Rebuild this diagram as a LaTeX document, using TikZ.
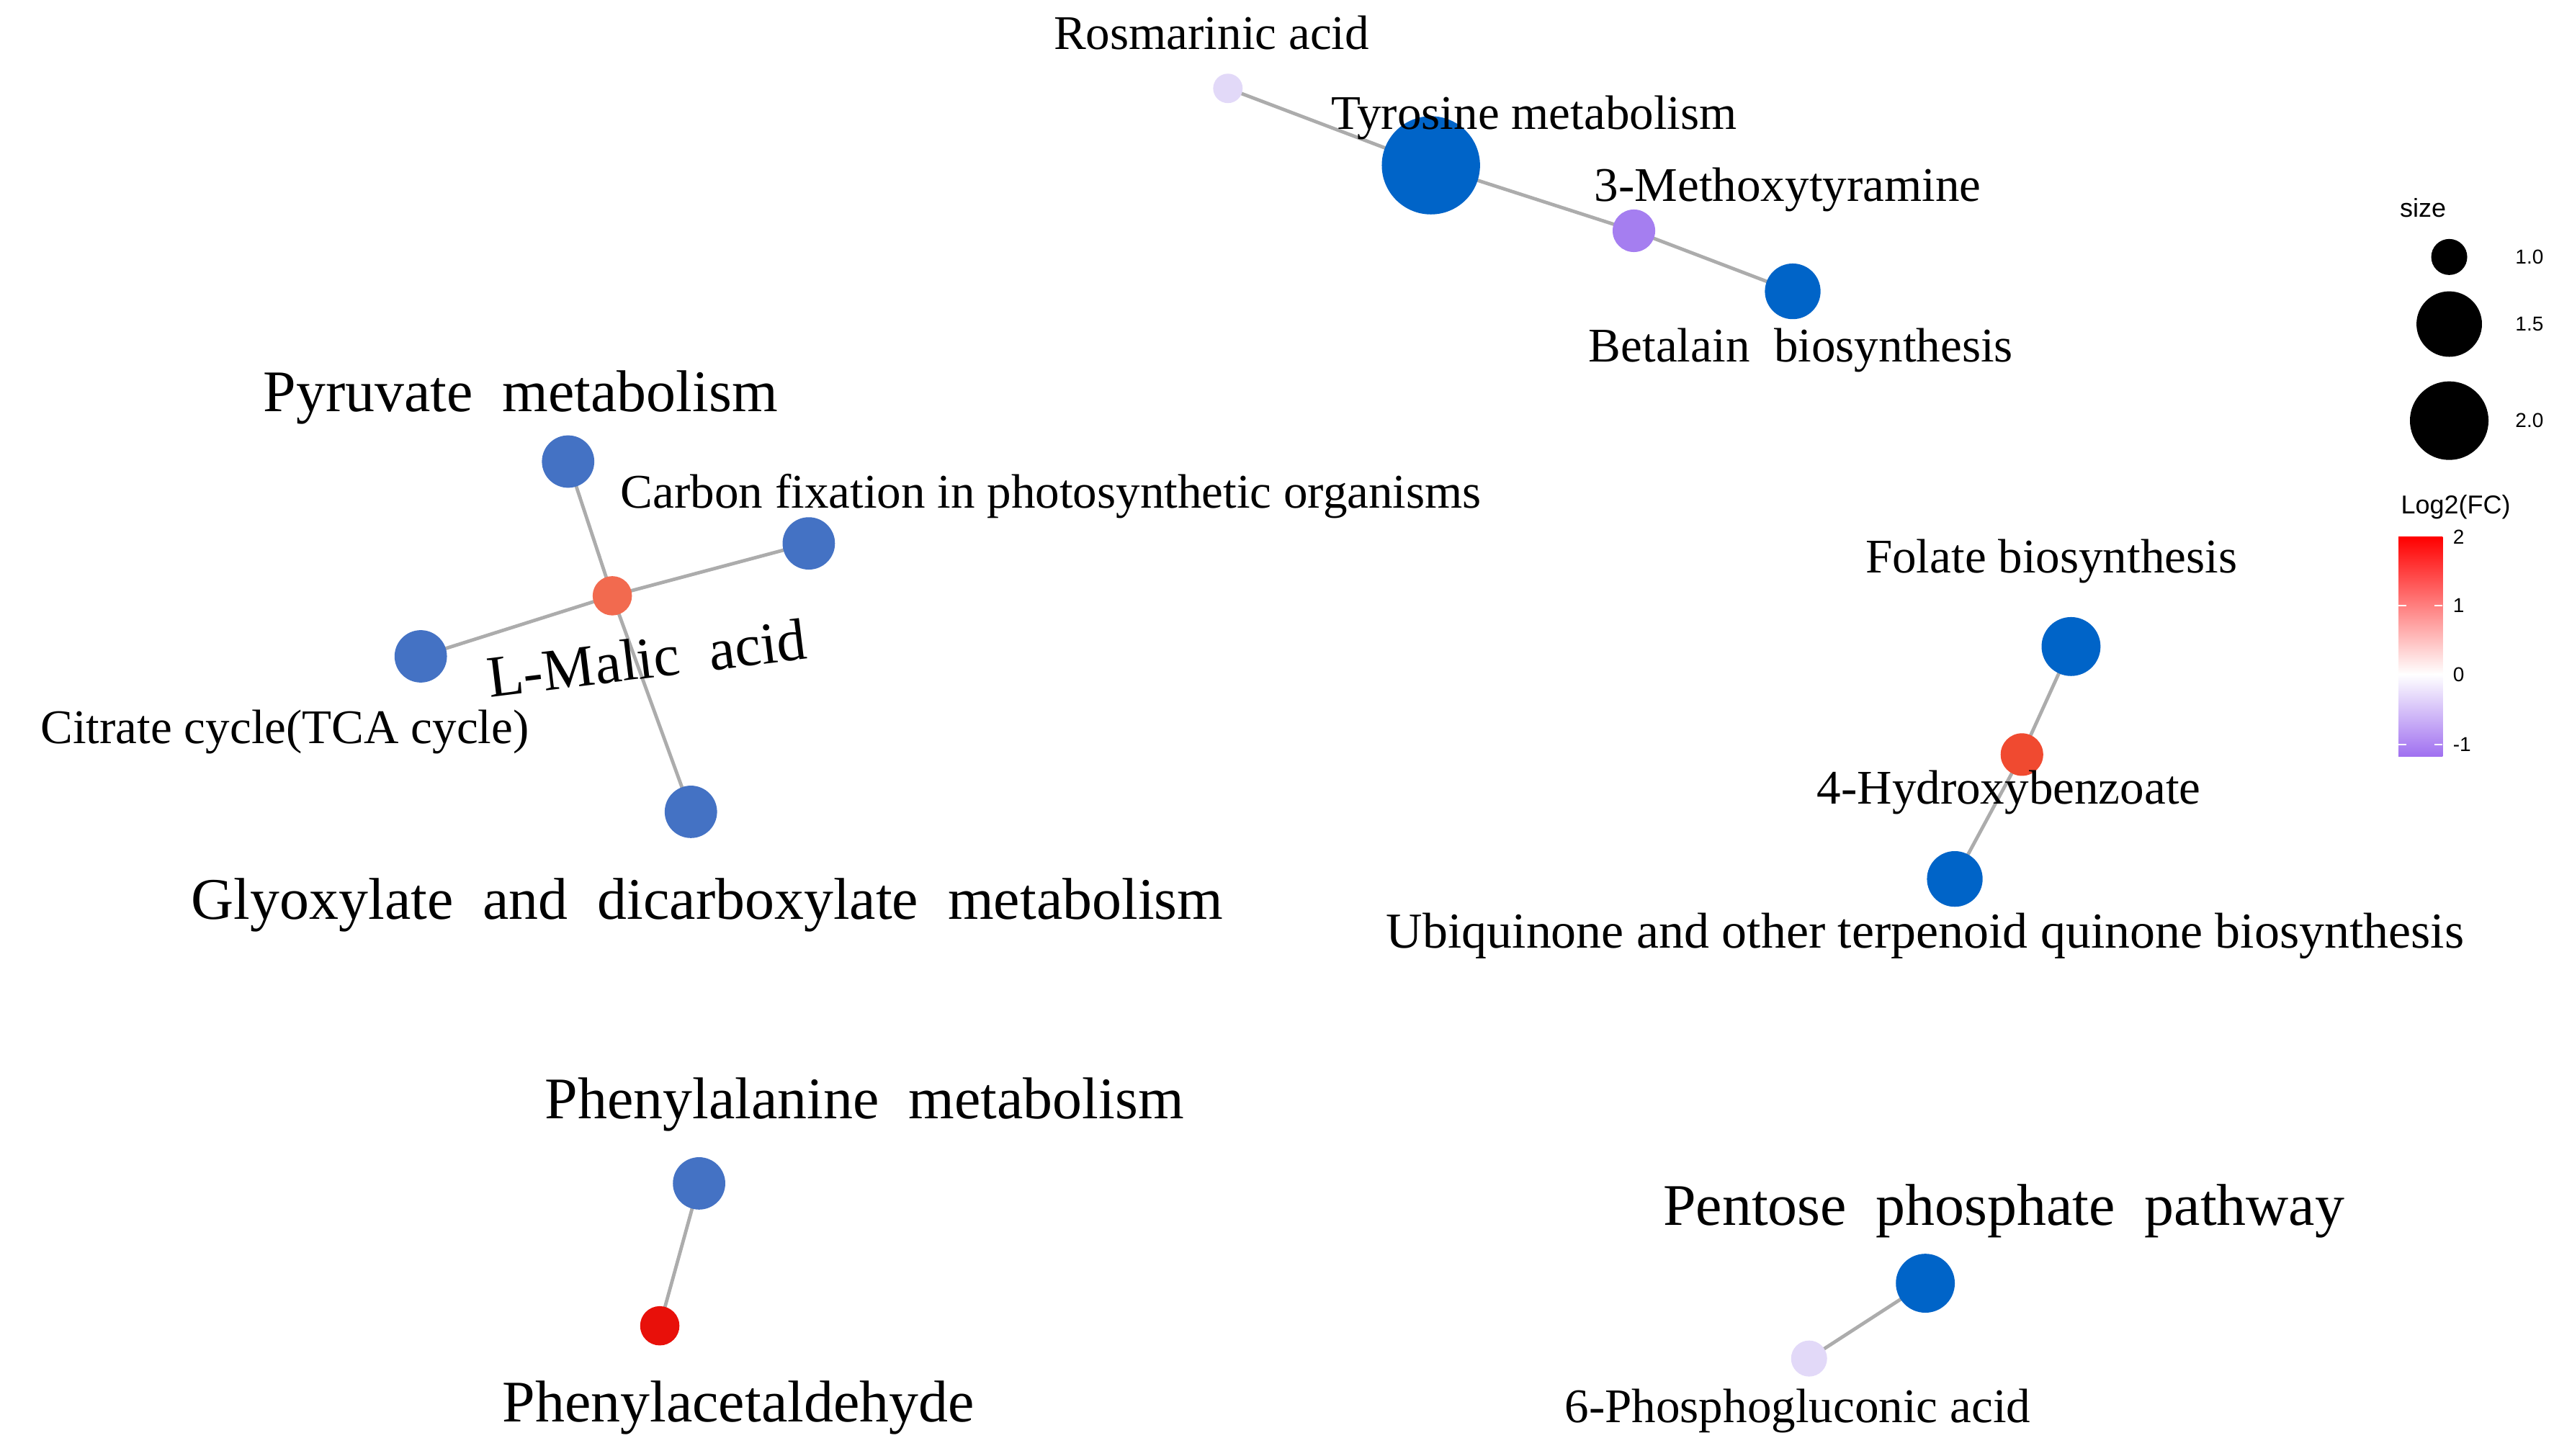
\documentclass[tikz,border=0pt]{standalone}
\usepackage{fontspec}
\setmainfont{Liberation Serif}
\newfontfamily\legfont{Liberation Sans}
\begin{document}
\begin{tikzpicture}[x=0.02cm,y=-0.02cm,
  edge/.style={draw=gray!65,line width=1.2pt},
  sm/.style={font=\fontsize{16.8}{19}\selectfont,inner sep=0pt},
  lg/.style={font=\fontsize{20.5}{23}\selectfont,inner sep=0pt},
  leg/.style={font=\legfont\fontsize{9}{10}\selectfont,inner sep=0pt},
  legn/.style={font=\legfont\fontsize{7}{8}\selectfont,inner sep=0pt}]
\definecolor{nb}{HTML}{0064C8}
\definecolor{mb}{HTML}{4472C4}
\definecolor{lav}{HTML}{E2D9F8}
\definecolor{pur}{HTML}{A57EF0}
\definecolor{malc}{HTML}{F26A4F}
\definecolor{hydc}{HTML}{F04A30}
\definecolor{palc}{HTML}{E8100A}
\definecolor{lowc}{HTML}{A070F0}
\useasboundingbox (0,0) rectangle (1560,889.5);
\coordinate (ros) at (750,54);
\coordinate (tyr) at (874,101);
\coordinate (met) at (998,141);
\coordinate (bet) at (1095,178);
\coordinate (pyr) at (347,282);
\coordinate (car) at (494,332);
\coordinate (mal) at (374,364);
\coordinate (cit) at (257,401);
\coordinate (gly) at (422,496);
\coordinate (fol) at (1265,395);
\coordinate (hyd) at (1235,461);
\coordinate (ubi) at (1194,537);
\coordinate (phe) at (427,723);
\coordinate (pal) at (403,810);
\coordinate (pen) at (1176,784);
\coordinate (pgl) at (1105,830);
\draw[edge] (ros) -- (tyr) -- (met) -- (bet)
  (pyr) -- (mal) (car) -- (mal) (cit) -- (mal) (gly) -- (mal)
  (fol) -- (hyd) -- (ubi) (phe) -- (pal) (pen) -- (pgl);
\foreach \n/\c/\r in {ros/lav/9,tyr/nb/30,met/pur/13,bet/nb/17,pyr/mb/16,car/mb/16,cit/mb/16,gly/mb/16,fol/nb/18,ubi/nb/17,phe/mb/16,pen/nb/18,pgl/lav/11,mal/malc/12,hyd/hydc/13,pal/palc/12}
  \fill[\c] (\n) circle (\r);
% labels
\node[sm] (lros) at (740,20) {Rosmarinic acid};
\node[sm] (ltyr) at (937,72) {Tyrosine metabolism};
\node[sm] (lmet) at (1092,116) {3-Methoxytyramine};
\node[sm] (lbet) at (1100,214) {Betalain\ \ biosynthesis};
\node[lg] (lpyr) at (318,243) {Pyruvate\ \ metabolism};
\node[sm] (lcar) at (642,303) {Carbon fixation in photosynthetic organisms};
\node[lg,rotate=7] (lmal) at (395,402) {L-Malic\ \ acid};
\node[sm] (lcit) at (174,447) {Citrate cycle(TCA cycle)};
\node[lg] (lgly) at (432,553) {Glyoxylate\ \ and\ \ dicarboxylate\ \ metabolism};
\node[sm] (lfol) at (1253,343) {Folate biosynthesis};
\node[sm] (lhyd) at (1227,484) {4-Hydroxybenzoate};
\node[sm,font=\fontsize{17.5}{19}\selectfont] (lubi) at (1176,572) {Ubiquinone and other terpenoid quinone biosynthesis};
\node[lg] (lphe) at (528,675) {Phenylalanine\ \ metabolism};
\node[lg] (lpal) at (451,860) {Phenylacetaldehyde};
\node[lg] (lpen) at (1224,740) {Pentose\ \ phosphate\ \ pathway};
\node[sm] (lpgl) at (1098,862) {6-Phosphogluconic acid};
% legend
\node[leg] (ls) at (1480,127) {size};
\fill (1496,157) circle (11); \node[legn] (l10) at (1545,157) {1.0};
\fill (1496,198) circle (20); \node[legn] (l15) at (1545,198) {1.5};
\fill (1496,257) circle (24); \node[legn] (l20) at (1545,257) {2.0};
\node[leg] (lfc) at (1500,310) {Log2(FC)};
\shade[top color=red,bottom color=white] (1465,328) rectangle (1492,412);
\shade[top color=white,bottom color=lowc] (1465,412) rectangle (1492,462);
\foreach \y in {370,412,455} {\draw[white,line width=0.6pt] (1465,\y) -- (1470,\y) (1487,\y) -- (1492,\y);}
\foreach \y/\t in {328/2,370/1,412/0,455/-1} \node[legn,anchor=west] at (1498,\y) {\t};
\end{tikzpicture}
\end{document}
